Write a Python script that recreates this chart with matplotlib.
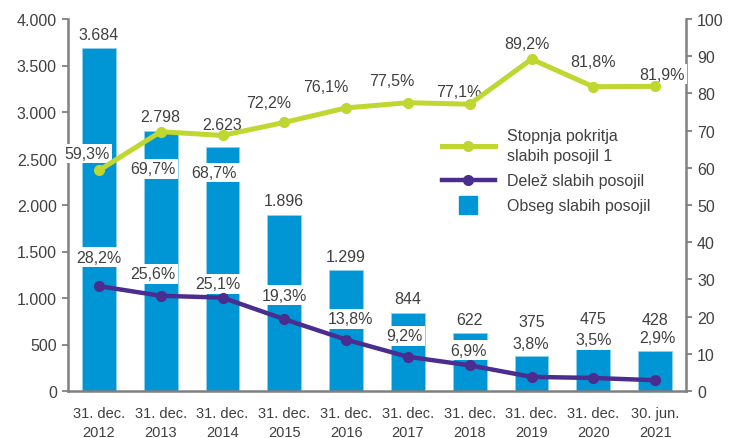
import numpy as np
import matplotlib
matplotlib.use("Agg")
import matplotlib.pyplot as plt
from matplotlib.lines import Line2D
from matplotlib.ticker import FuncFormatter, MultipleLocator

plt.rcParams['font.family'] = ['Liberation Sans', 'DejaVu Sans']

# podatki
obdobja = ["31. dec.\n2012", "31. dec.\n2013", "31. dec.\n2014", "31. dec.\n2015",
           "31. dec.\n2016", "31. dec.\n2017", "31. dec.\n2018", "31. dec.\n2019",
           "31. dec.\n2020", "30. jun.\n2021"]
obseg = [3684, 2798, 2623, 1896, 1299, 844, 622, 375, 475, 428]
pokritost = [59.3, 69.7, 68.7, 72.2, 76.1, 77.5, 77.1, 89.2, 81.8, 81.9]
delez = [28.2, 25.6, 25.1, 19.3, 13.8, 9.2, 6.9, 3.8, 3.5, 2.9]

# odmiki oznak v pikslih (dx desno, dy navzdol glede na tocko)
odmik_obseg = [14, 14, 23, 14, 14, 14, 14, 35, 28, 32]
odmik_pokr = [(-12, -17), (-8, 37), (-8, 37), (-16, -20), (-20, -21),
              (-16, -22), (-11, -13), (-5, -16), (0, -25), (7, -12)]
odmik_delez = [(0, -29), (-8, -22), (-5, -14), (0, -24), (4, -21),
               (-3, -21), (-1, -15), (-1, -33), (0, -38), (2, -43)]

c_bar = '#0096D6'
c_green = '#BFD730'
c_purple = '#4B2C8F'
c_text = '#404040'
c_axis = '#808080'
px = 0.72  # pt na piksel pri dpi=100

fig = plt.figure(figsize=(7.29, 4.39), dpi=100)
ax = fig.add_axes([68 / 729, 47 / 439, 618 / 729, 372 / 439])
ax2 = ax.twinx()

x = np.arange(len(obseg))
ax.bar(x, obseg, width=0.55, color=c_bar, edgecolor='#8FD0EE', linewidth=0.6, zorder=2)
for xi, v, d in zip(x, obseg, odmik_obseg):
    ax.annotate(f"{v:,}".replace(",", "."), (xi, v), xytext=(0, d * px),
                textcoords='offset points', ha='center', va='center',
                fontsize=11.5, color=c_text)

ax.set_xlim(-0.5, len(obseg) - 0.5)
ax.set_ylim(0, 4000)
ax.yaxis.set_major_locator(MultipleLocator(500))
ax.yaxis.set_major_formatter(FuncFormatter(lambda v, p: f"{v:,.0f}".replace(",", ".")))
ax.set_xticks(x)
ax.set_xticklabels(obdobja, fontsize=10.5, color=c_text, linespacing=1.45)
ax.tick_params(axis='x', length=0, pad=11)
ax.tick_params(axis='y', direction='out', length=4, width=1.3, color=c_axis,
               labelsize=11.5, labelcolor=c_text, pad=4)

ax2.plot(x, pokritost, color=c_green, lw=3.6, marker='o', ms=7, zorder=5)
ax2.plot(x, delez, color=c_purple, lw=3.2, marker='o', ms=7, zorder=5)
for xi, v, (dx, dy) in zip(x, pokritost, odmik_pokr):
    ax2.annotate(f"{v:.1f}%".replace(".", ","), (xi, v), xytext=(dx * px, -dy * px),
                 textcoords='offset points', ha='center', va='center', fontsize=11.5,
                 color=c_text, zorder=3,
                 bbox=dict(boxstyle='square,pad=0.15', fc='white', ec='none'))
for xi, v, (dx, dy) in zip(x, delez, odmik_delez):
    ax2.annotate(f"{v:.1f}%".replace(".", ","), (xi, v), xytext=(dx * px, -dy * px),
                 textcoords='offset points', ha='center', va='center', fontsize=11.5,
                 color=c_text, zorder=3,
                 bbox=dict(boxstyle='square,pad=0.15', fc='white', ec='none'))
ax2.set_ylim(0, 100)
ax2.yaxis.set_major_locator(MultipleLocator(10))
ax2.tick_params(axis='y', direction='out', length=4, width=1.3, color=c_axis,
                labelsize=11.5, labelcolor=c_text, pad=4)

for a in (ax, ax2):
    a.spines['top'].set_visible(False)
ax2.spines['bottom'].set_visible(False)
ax2.spines['left'].set_visible(False)
ax.spines['right'].set_visible(False)
for s in (ax.spines['left'], ax.spines['bottom'], ax2.spines['right']):
    s.set_color(c_axis)
    s.set_linewidth(1.8)

handles = [
    Line2D([], [], color=c_green, lw=3.6, marker='o', ms=7),
    Line2D([], [], color=c_purple, lw=3.2, marker='o', ms=7),
    Line2D([], [], color=c_bar, marker='s', ms=13, linestyle='None'),
]
labels = ["Stopnja pokritja\nslabih posojil 1", "Delež slabih posojil", "Obseg slabih posojil"]
leg = fig.legend(handles, labels, loc='upper left', bbox_to_anchor=(442 / 729, 1 - 129 / 439),
                 frameon=False, fontsize=11.5, handlelength=3.3, handletextpad=0.75,
                 labelspacing=0.62, borderpad=0, borderaxespad=0, numpoints=1)
for t in leg.get_texts():
    t.set_color(c_text)
    t.set_linespacing(1.45)

fig.savefig("out.png", dpi=100)
